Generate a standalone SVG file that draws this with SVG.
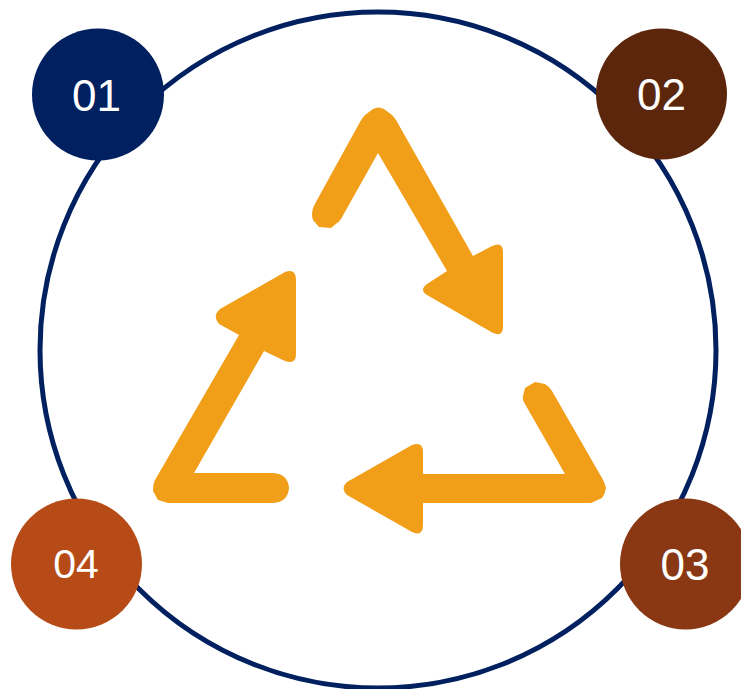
<svg xmlns="http://www.w3.org/2000/svg" width="741" height="689" viewBox="0 0 741 689">
<style>
.n{font-family:"Liberation Sans",Arial,sans-serif;fill:#fff;text-anchor:middle}
.a{fill:#F19F18}
</style>
<rect width="741" height="689" fill="#fff"/>
<g id="connectors"><circle cx="378" cy="350" r="338" fill="none" stroke="#002060" stroke-width="5"/></g>
<g id="recycle" class="a">
<path d="M365 115L373 109Q378 106 384 109L392 115Q394 117 396 120L473 256L492 246Q503 241 503 252L503 327Q503 337 493 333L427 295Q419 290 427 284L447 271L378 153L341 219Q339 222 337 223L331 228L319 227L313 220Q311 215 313 208L317 200L360 122Q362 118 365 115Z"/>
<path d="M220 309L285 272Q296 268 296 280L296 354Q296 365 285 361L264 351L194 473L273 473Q288 474 289 488Q288 502 273 503L168 503L158 500L153 491Q153 484 155 480L239 335L219 324Q212 316 220 309Z"/>
<path d="M347 482L412 445Q423 441 423 452L423 474L565 474L525 404Q522 399 523 396L525 388L535 382L545 384Q550 387 552 391L602 478Q605 483 606 488Q605 494 602 498L591 503L423 503L423 525Q423 537 412 532L347 495Q340 488 347 482Z"/>
</g>
<g id="node-01"><circle cx="98" cy="94.500" r="66" fill="#002060"/><text class="n" x="96.500" y="111" font-size="44">01</text></g>
<g id="node-02"><circle cx="661.500" cy="94" r="65.500" fill="#5C260D"/><text class="n" x="661.500" y="110" font-size="44">02</text></g>
<g id="node-03"><circle cx="685.500" cy="564" r="65.500" fill="#893813"/><text class="n" x="685" y="580" font-size="44">03</text></g>
<g id="node-04"><circle cx="76.500" cy="564" r="65.500" fill="#B64B17"/><text class="n" x="76" y="577.500" font-size="41">04</text></g>
</svg>
